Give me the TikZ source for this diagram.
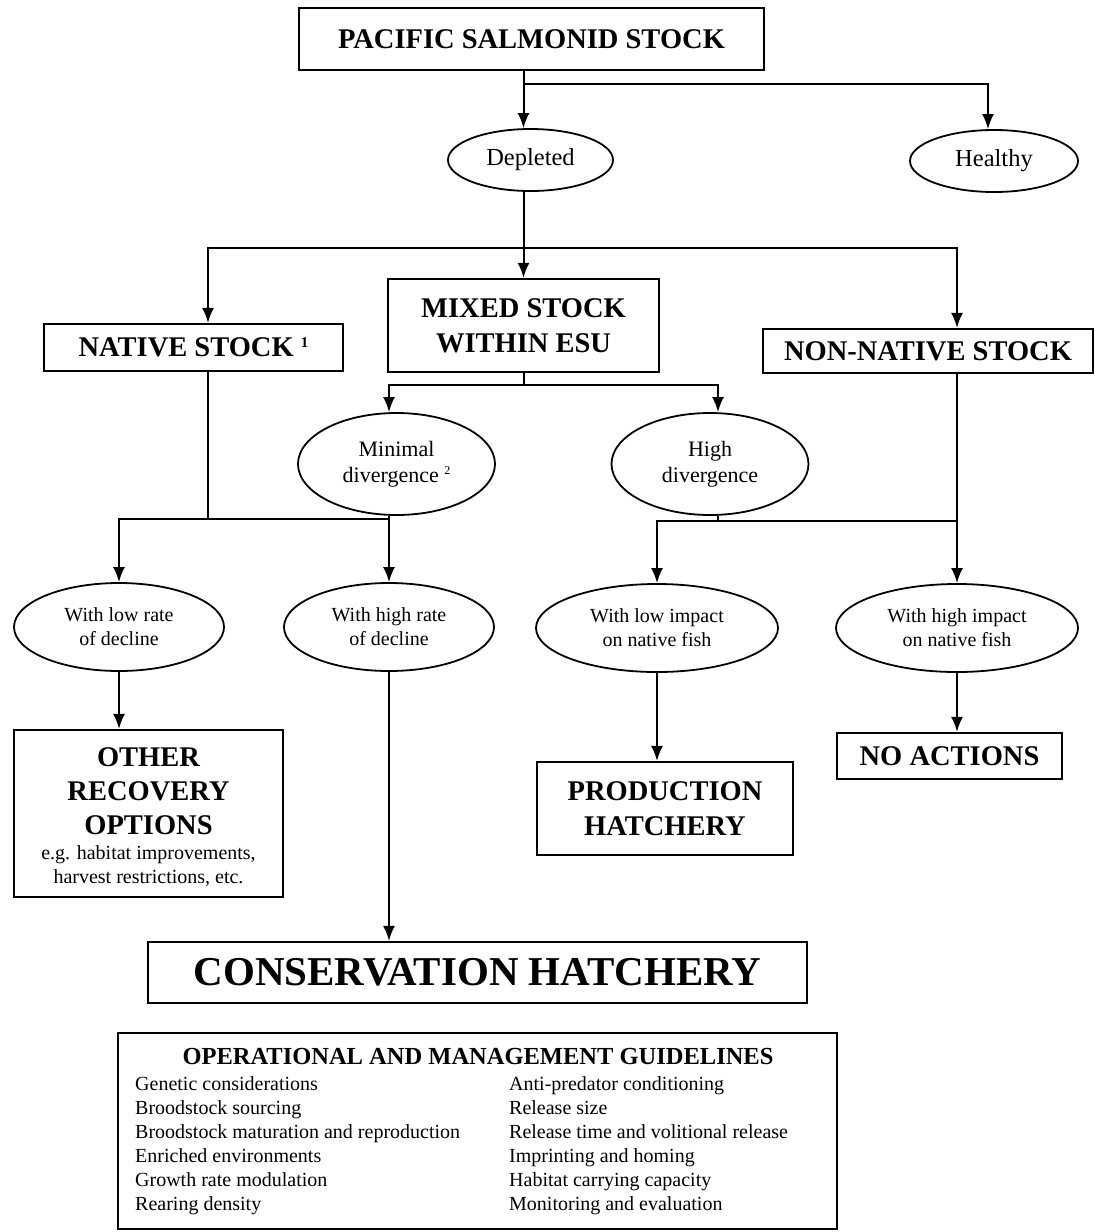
\documentclass[tikz,border=0pt]{standalone}
\usepackage{fontspec}
\setmainfont{Liberation Serif}
\usetikzlibrary{shapes.geometric,arrows.meta}
\begin{document}
\begin{tikzpicture}[x=1pt,y=-1pt,
  box/.style={draw, line width=2.2pt, inner sep=0pt, align=center, font=\bfseries\fontsize{28.5}{35}\selectfont},
  ell/.style={draw, ellipse, line width=1.8pt, inner sep=0pt, align=center},
  conn/.style={line width=2pt},
  arr/.style={conn, -{Latex[length=15pt,width=12pt]}},
  item/.style={anchor=base west, inner sep=0pt, font=\fontsize{20}{24}\selectfont}
]
\useasboundingbox[fill=white] (0,0) rectangle (1095,1232);

% boxes
\node[box, minimum width=465pt, minimum height=62pt] (top) at (531.5,39) {PACIFIC SALMONID STOCK};
\node[box, minimum width=299pt, minimum height=47pt] (native) at (193.5,347.5) {NATIVE STOCK {\fontsize{15}{15}\selectfont\raisebox{9pt}{1}}};
\node[box, minimum width=271pt, minimum height=93pt] (mixed) at (523.5,325.5) {MIXED STOCK\\WITHIN ESU};
\node[box, minimum width=330pt, minimum height=44pt] (nonnative) at (928,351) {NON-NATIVE STOCK};
\node[box, minimum width=269pt, minimum height=167pt] (other) at (148.5,813.5) {};
\node[inner sep=0pt, align=center, font=\bfseries\fontsize{28.5}{34}\selectfont] (otherT) at (148.5,791) {OTHER\\RECOVERY\\OPTIONS};
\node[inner sep=0pt, align=center, font=\fontsize{20}{24}\selectfont] (otherS) at (148.5,866) {e.g. habitat improvements,\\harvest restrictions, etc.};
\node[box, minimum width=256pt, minimum height=93pt] (prod) at (665,808.5) {PRODUCTION\\HATCHERY};
\node[box, minimum width=225pt, minimum height=46pt] (noact) at (949.5,756) {NO ACTIONS};
\node[box, minimum width=659pt, minimum height=61pt, font=\bfseries\fontsize{41}{45}\selectfont] (cons) at (477.5,972.5) {CONSERVATION HATCHERY};
\node[box, minimum width=719pt, minimum height=196pt] (guide) at (477.5,1131) {};

% ellipses
\node[ell, minimum width=165pt, minimum height=62pt, font=\fontsize{24.5}{28}\selectfont] (dep) at (530.5,160) {Depleted};
\node[ell, minimum width=168pt, minimum height=62pt, font=\fontsize{24.5}{28}\selectfont] (healthy) at (994,161) {Healthy};
\node[ell, minimum width=197pt, minimum height=102pt, font=\fontsize{22}{26}\selectfont] (minimal) at (396.5,464) {Minimal\\divergence {\fontsize{12}{12}\selectfont\raisebox{8pt}{2}}};
\node[ell, minimum width=197pt, minimum height=102pt, font=\fontsize{22}{26}\selectfont] (high) at (710,464) {High\\divergence};
\node[ell, minimum width=210pt, minimum height=88pt, font=\fontsize{20}{24}\selectfont] (lrate) at (119,627) {With low rate\\of decline};
\node[ell, minimum width=210pt, minimum height=88pt, font=\fontsize{20}{24}\selectfont] (hrate) at (389,627) {With high rate\\of decline};
\node[ell, minimum width=242pt, minimum height=88pt, font=\fontsize{20}{24}\selectfont] (limpact) at (657,628) {With low impact\\on native fish};
\node[ell, minimum width=242pt, minimum height=88pt, font=\fontsize{20}{24}\selectfont] (himpact) at (957,628) {With high impact\\on native fish};

% guidelines text
\node[anchor=base, inner sep=0pt, font=\bfseries\fontsize{24.5}{28}\selectfont] (gtitle) at (478,1064) {OPERATIONAL AND MANAGEMENT GUIDELINES};
\node[item] (g1) at (135,1090) {Genetic considerations};
\node[item] (g2) at (135,1114) {Broodstock sourcing};
\node[item] (g3) at (135,1138) {Broodstock maturation and reproduction};
\node[item] (g4) at (135,1162) {Enriched environments};
\node[item] (g5) at (135,1186) {Growth rate modulation};
\node[item] (g6) at (135,1210) {Rearing density};
\node[item] (h1) at (509,1090) {Anti-predator conditioning};
\node[item] (h2) at (509,1114) {Release size};
\node[item] (h3) at (509,1138) {Release time and volitional release};
\node[item] (h4) at (509,1162) {Imprinting and homing};
\node[item] (h5) at (509,1186) {Habitat carrying capacity};
\node[item] (h6) at (509,1210) {Monitoring and evaluation};

% junctions
\coordinate (j0) at (523.5,84);
\coordinate (jA) at (523.5,248);
\coordinate (jB) at (523.5,385);
\coordinate (jC) at (389,519);
\coordinate (jD) at (957,521);

% connectors
\draw[conn] (top.south -| j0) -- (j0);
\draw[arr] (j0) -- (j0 |- dep.north);
\draw[arr] (j0) -| ([xshift=-6pt]healthy.north);
\draw[conn] (dep.south -| jA) -- (jA);
\draw[arr] (jA) -- (mixed.north);
\draw[arr] (jA) -| ([xshift=14.5pt]native.north);
\draw[arr] (jA) -| ([xshift=29pt]nonnative.north);
\draw[conn] (mixed.south) -- (jB);
\draw[arr] (jB) -| ([xshift=-7.5pt]minimal.north);
\draw[arr] (jB) -| ([xshift=8pt]high.north);
\draw[conn] ([xshift=14.5pt]native.south) |- (jC);
\draw[conn] ([xshift=-7.5pt]minimal.south) -- (jC);
\draw[arr] (jC) -- (hrate.north);
\draw[arr] (jC) -| (lrate.north);
\draw[conn] ([xshift=8pt]high.south) -- ([xshift=8pt]high.south |- jD);
\draw[conn] ([xshift=29pt]nonnative.south) -- (jD);
\draw[arr] (jD) -- (himpact.north);
\draw[arr] (jD) -| (limpact.north);
\draw[arr] (lrate.south) -- (lrate.south |- other.north);
\draw[arr] (hrate.south) -- (hrate.south |- cons.north);
\draw[arr] (limpact.south) -- (limpact.south |- prod.north);
\draw[arr] (himpact.south) -- (himpact.south |- noact.north);
\end{tikzpicture}
\end{document}
